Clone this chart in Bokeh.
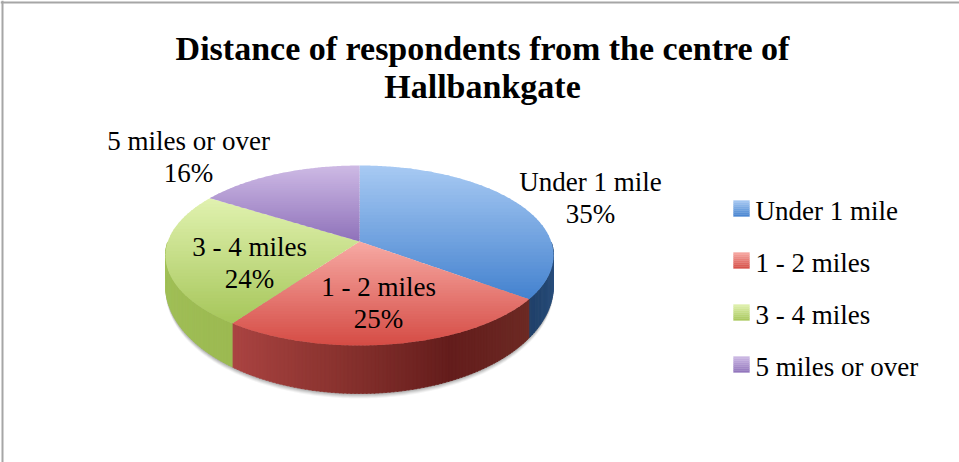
import numpy as np
from bokeh.plotting import figure
from bokeh.models import Range1d
from bokeh.embed import file_html
from bokeh.resources import INLINE
from bokeh.core.properties import value

# ---------------- data ----------------
categories = ["Under 1 mile", "1 - 2 miles", "3 - 4 miles", "5 miles or over"]
percent = [35, 25, 24, 16]
pct_labels = ["35%", "25%", "24%", "16%"]
title_lines = ["Distance of respondents from the centre of", "Hallbankgate"]

# ---------------- layout / style ----------------
W, H = 959, 462
CX, CY, A, B = 359.0, 255.0, 194.0, 90.0      # top face ellipse
PCY = 241.0                                    # projected pie centre (perspective)
PERSP = 8.5                                    # perspective angular distortion (deg)
CY2, B2 = 285.0, 108.0                         # bottom rim ellipse
FONT = "Liberation Serif"
TXT_DY = -9                                    # baseline correction for 27px text
TTL_DY = -11                                   # baseline correction for title

top_light = ["#a8caf3", "#f7aaa4", "#e1f2b0", "#cebae5"]
top_dark = ["#4482cf", "#d54c45", "#a6c65a", "#8f72ba"]
side_stops = [
    ["#2d5686", "#21416a"],
    ["#6d2b25", "#641d1c", "#8a332f", "#ab4442"],
    ["#9cba52", "#a3c259"],
    ["#7a62a0", "#7a62a0"],
]
label_r = [(1.336, 1.39), (0.63, 0.54), (0.577, 0.505), (1.829, 1.242)]


def hex2rgb(h):
    h = h.lstrip("#")
    return np.array([int(h[i:i + 2], 16) for i in (0, 2, 4)], dtype=float)


def rgb2hex(c):
    c = np.clip(np.round(c), 0, 255).astype(int)
    return "#%02x%02x%02x" % tuple(c)


def mix(stops, t):
    t = min(max(t, 0.0), 1.0)
    n = len(stops) - 1
    if n == 0:
        return stops[0]
    k = min(int(t * n), n - 1)
    f = t * n - k
    return rgb2hex(hex2rgb(stops[k]) * (1 - f) + hex2rgb(stops[k + 1]) * f)


def warp(th):
    # angle on the pie -> parameter angle on the projected ellipse
    return th - PERSP * np.sin(np.radians(th))


def top_pt(th):
    t = np.radians(warp(th))
    return CX + A * np.sin(t), CY - B * np.cos(t)


def bot_pt(th):
    t = np.radians(warp(th))
    return CX + A * np.sin(t), CY2 - B2 * np.cos(t)


def clip(poly, inside, inter):
    out = []
    n = len(poly)
    for i in range(n):
        cur, prev = poly[i], poly[i - 1]
        if inside(cur):
            if not inside(prev):
                out.append(inter(prev, cur))
            out.append(cur)
        elif inside(prev):
            out.append(inter(prev, cur))
    return out


def hline_inter(c):
    def f(p, q):
        t = (c - p[1]) / (q[1] - p[1])
        return (p[0] + t * (q[0] - p[0]), c)
    return f


def clip_band(poly, y0, y1):
    p1 = clip(poly, lambda p: p[1] >= y0, hline_inter(y0))
    if not p1:
        return []
    return clip(p1, lambda p: p[1] <= y1, hline_inter(y1))


# slice angles (clockwise from 12 o'clock)
total = float(sum(percent))
cum = np.concatenate([[0.0], np.cumsum(percent)]) / total * 360.0
starts, ends = cum[:-1], cum[1:]

p = figure(width=W, height=H, x_range=Range1d(0, W), y_range=Range1d(H, 0),
           output_backend="svg", toolbar_location=None, min_border=0)
p.axis.visible = False
p.grid.visible = False
p.outline_line_color = None
p.background_fill_color = "white"
p.border_fill_color = "white"

# ---- shadow under the pie ----
ths = np.linspace(90, 270, 181)
for off, al in [(5, 0.06), (4, 0.08), (3, 0.1), (2, 0.12), (1, 0.12)]:
    xs = [bot_pt(t)[0] for t in ths]
    ys = [bot_pt(t)[1] + off for t in ths]
    p.patch(xs + [CX + A], ys + [CY2], fill_color="#404040", fill_alpha=al, line_color=None)

# ---- sides (visible front half) ----
sx, sy, sc = [], [], []
for i in range(len(percent)):
    a0, a1 = max(starts[i], 90.0), min(ends[i], 270.0)
    if a1 <= a0:
        continue
    nstep = max(int((a1 - a0) / 1.0), 1)
    edges = np.linspace(a0, a1, nstep + 1)
    for j in range(nstep):
        ta, tb = edges[j], edges[j + 1]
        tb2 = min(tb + 0.3, a1)
        pa, pb = top_pt(ta), top_pt(tb2)
        qa, qb = bot_pt(ta), bot_pt(tb2)
        sx.append([pa[0], pb[0], qb[0], qa[0]])
        sy.append([pa[1], pb[1], qb[1], qa[1]])
        sc.append(mix(side_stops[i], (0.5 * (ta + tb) - a0) / (a1 - a0)))
p.patches(sx, sy, fill_color=sc, line_color=sc, line_width=0.6)

# ---- top faces with vertical gradient ----
fx, fy, fc = [], [], []
for i in range(len(percent)):
    arc = np.linspace(starts[i], ends[i], max(int(ends[i] - starts[i]) * 2, 8))
    poly = [(CX, PCY)] + [top_pt(t) for t in arc]
    ymin = min(q[1] for q in poly)
    ymax = max(q[1] for q in poly)
    nb = 40
    bands = np.linspace(ymin, ymax, nb + 1)
    for k in range(nb):
        piece = clip_band(poly, bands[k] - 0.4, bands[k + 1] + 0.4)
        if len(piece) < 3:
            continue
        fx.append([q[0] for q in piece])
        fy.append([q[1] for q in piece])
        fc.append(mix([top_light[i], top_dark[i]], (k + 0.5) / nb))
p.patches(fx, fy, fill_color=fc, line_color=None)

# ---- data labels ----
lx, ly1, ly2 = [], [], []
for i in range(len(percent)):
    mid = np.radians(0.5 * (starts[i] + ends[i]))
    rx, ry = label_r[i]
    x = CX + A * rx * np.sin(mid)
    yc = CY - B * ry * np.cos(mid)
    lx.append(x)
    ly1.append(yc - 8 + TXT_DY)
    ly2.append(yc + 24 + TXT_DY)
p.text(x=lx, y=ly1, text=categories, text_font=value(FONT), text_font_size="27px",
       text_align="center", text_baseline="alphabetic", text_color="black")
p.text(x=lx, y=ly2, text=pct_labels, text_font=value(FONT), text_font_size="27px",
       text_align="center", text_baseline="alphabetic", text_color="black")

# ---- title ----
p.text(x=[482, 482], y=[59 + TTL_DY, 97 + TTL_DY], text=title_lines, text_font=value(FONT),
       text_font_size="34px", text_font_style="bold", text_align="center",
       text_baseline="alphabetic", text_color="black")

# ---- legend ----
LX, LY0, LDY, SQ = 733, 200, 52, 16
gx, gy, gc = [], [], []
for i in range(len(categories)):
    top = LY0 + i * LDY
    ns = 8
    for k in range(ns):
        y0 = top + SQ * k / ns
        y1 = top + SQ * (k + 1) / ns
        gx.append([LX, LX + SQ, LX + SQ, LX])
        gy.append([y0, y0, y1, y1])
        gc.append(mix([top_light[i], top_dark[i]], (k + 0.5) / ns))
p.patches(gx, gy, fill_color=gc, line_color=gc, line_width=0.3)
p.text(x=[LX + 22] * len(categories),
       y=[LY0 + 19 + i * LDY + TXT_DY for i in range(len(categories))],
       text=categories, text_font=value(FONT), text_font_size="27px",
       text_align="left", text_baseline="alphabetic", text_color="black")

# ---- chart border ----
p.line([0, W], [2, 2], line_color="#a6a6a6", line_width=2)
p.line([2, 2], [0, H], line_color="#a6a6a6", line_width=2)

open("out.html", "w").write(file_html(p, INLINE))
